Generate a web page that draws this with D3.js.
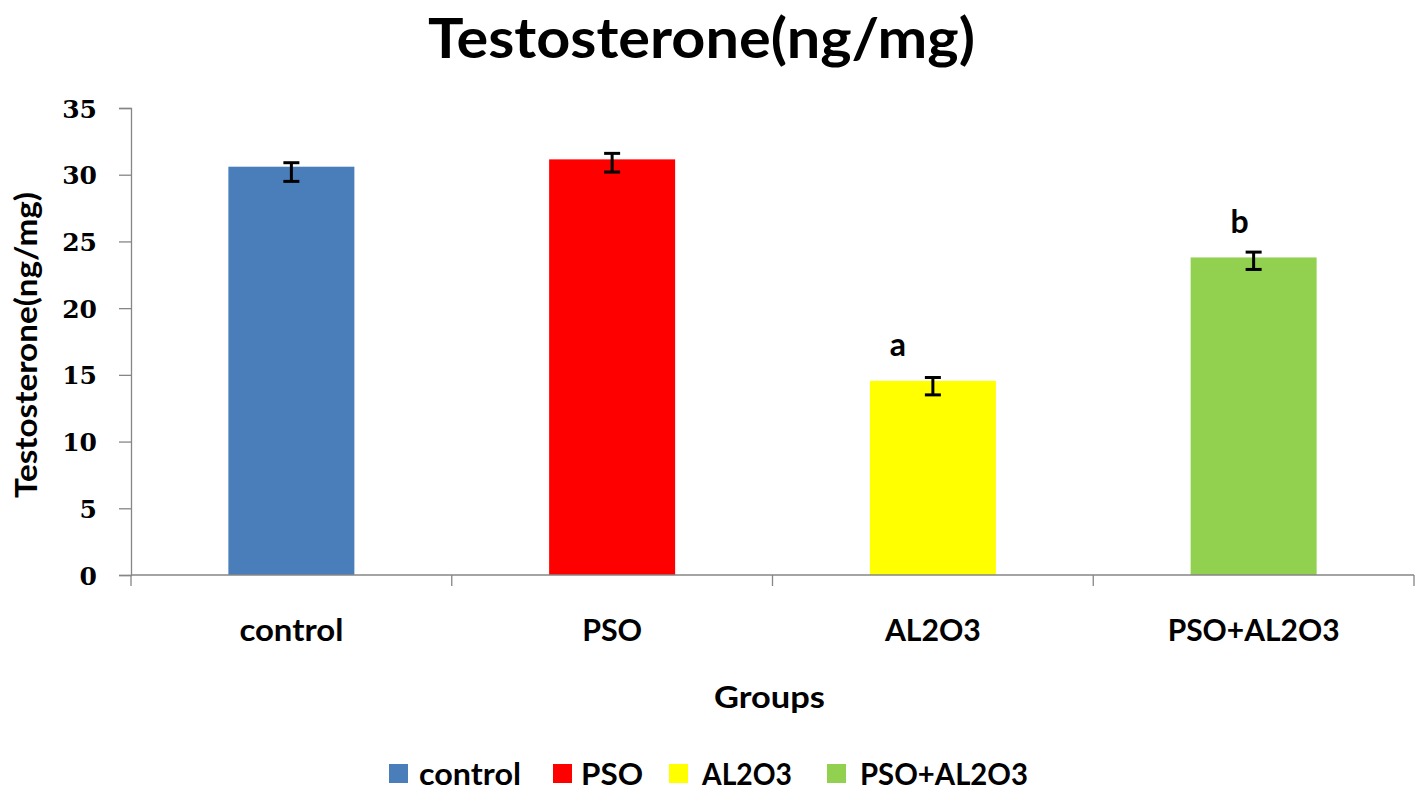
<!DOCTYPE html>
<html><head><meta charset="utf-8">
<script src="https://cdn.jsdelivr.net/npm/d3@7"></script>
<style>body{margin:0;background:#fff}svg{display:block}</style>
</head><body>
<script>
const categories = ["control","PSO","AL2O3","PSO+AL2O3"];
const values = [30.6, 31.15, 14.55, 23.8];
const errLow = [29.5, 30.2, 13.5, 22.9];
const errHigh = [30.9, 31.6, 14.8, 24.2];
const sigLabels = ["", "", "a", "b"];
const colors = ["#4a7ebb","#ff0000","#ffff00","#92d050"];
const yTicks = [0,5,10,15,20,25,30,35];

const W = 1418, H = 802;
const m = {left:131, right:4, top:108, bottom:227};
const svg = d3.select("body").append("svg").attr("width",W).attr("height",H);
const x = d3.scaleBand().domain(categories).range([m.left, W-m.right]).paddingInner(0).paddingOuter(0);
const y = d3.scaleLinear().domain([0,35]).range([H-m.bottom, m.top]);
const sans = "Lato, 'Open Sans', sans-serif";
const fit = (sel, w) => sel.attr("textLength", w).attr("lengthAdjust","spacingAndGlyphs");

// title
fit(svg.append("text").attr("x",428).attr("y",58)
  .style("font-family",sans).style("font-weight","bold").style("font-size","56px").text("Testosterone(ng/mg)"), 547);

// bars
const bw = 126;
svg.selectAll("rect.bar").data(categories).join("rect").attr("class","bar")
  .attr("x",d=>x(d)+x.bandwidth()/2-bw/2).attr("width",bw)
  .attr("y",(d,i)=>y(values[i])).attr("height",(d,i)=>y(0)-y(values[i]))
  .attr("fill",(d,i)=>colors[i]);

// y axis
const yAxis = d3.axisLeft(y).tickValues(yTicks).tickSize(12).tickPadding(22);
const gy = svg.append("g").attr("transform",`translate(${m.left},0)`).call(yAxis);
gy.select(".domain").attr("stroke","#868686").attr("stroke-width",1.3);
gy.selectAll(".tick line").attr("stroke","#868686").attr("stroke-width",1.3);
gy.selectAll(".tick text").attr("dy","0.36em").style("font-family","'DejaVu Serif', serif").style("font-weight","bold").style("font-size","25px").attr("fill","#000");

// x axis
const gx = svg.append("g").attr("transform",`translate(0,${y(0)})`);
gx.append("line").attr("x1",m.left).attr("x2",W-m.right).attr("y1",0).attr("y2",0).attr("stroke","#868686").attr("stroke-width",1.3);
const bounds = [m.left].concat(categories.map(c=>x(c)+x.bandwidth()));
gx.selectAll("line.tk").data(bounds).join("line").attr("class","tk")
  .attr("x1",d=>d).attr("x2",d=>d).attr("y1",0).attr("y2",11).attr("stroke","#868686").attr("stroke-width",1.3);
const catW = [104, 60, 96, 172];
gx.selectAll("text.cat").data(categories).join("text").attr("class","cat")
  .attr("x",d=>x(d)+x.bandwidth()/2).attr("y",66).attr("text-anchor","middle")
  .style("font-family",sans).style("font-weight","bold").style("font-size","30px").text(d=>d)
  .attr("textLength",(d,i)=>catW[i]).attr("lengthAdjust","spacingAndGlyphs");

// error bars
const eg = svg.append("g");
const sigDx = [0, 0, -35, -14], sigDy = [0, 0, -22, -19];
categories.forEach((c,i)=>{
  const cx = x(c)+x.bandwidth()/2;
  eg.append("line").attr("x1",cx).attr("x2",cx).attr("y1",y(errHigh[i])).attr("y2",y(errLow[i])).attr("stroke","#000").attr("stroke-width",3);
  [errHigh[i],errLow[i]].forEach(v=>{
    eg.append("line").attr("x1",cx-8).attr("x2",cx+8).attr("y1",y(v)).attr("y2",y(v)).attr("stroke","#000").attr("stroke-width",3);
  });
  if (sigLabels[i]) {
    svg.append("text").attr("x",cx+sigDx[i]).attr("y",y(errHigh[i])+sigDy[i]).attr("text-anchor","middle")
      .style("font-family",sans).style("font-weight","bold").style("font-size","32px").text(sigLabels[i]);
  }
});

// axis titles
fit(svg.append("text").attr("x",714).attr("y",708)
  .style("font-family",sans).style("font-weight","bold").style("font-size","30px").text("Groups"), 111);
fit(svg.append("text").attr("transform","translate(37,498) rotate(-90)")
  .style("font-family",sans).style("font-weight","bold").style("font-size","30px").text("Testosterone(ng/mg)"), 306);

// legend
const legX = [389, 553, 669, 827];
const legTX = [419, 581, 702, 860];
const legW = [102, 62, 90, 168];
const lg = svg.append("g");
categories.forEach((c,i)=>{
  lg.append("rect").attr("x",legX[i]).attr("y",764).attr("width",19).attr("height",19).attr("fill",colors[i]);
  fit(lg.append("text").attr("x",legTX[i]).attr("y",785)
    .style("font-family",sans).style("font-weight","bold").style("font-size","30px").text(c), legW[i]);
});
</script>
</body></html>
